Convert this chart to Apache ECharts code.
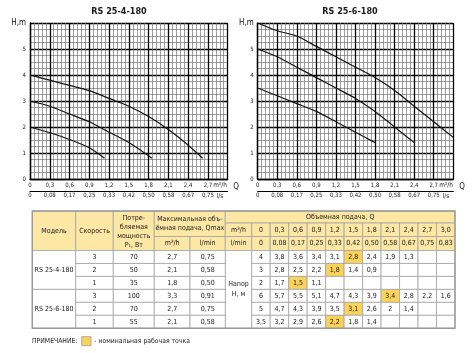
<!DOCTYPE html>
<html><head><meta charset="utf-8">
<script src="https://cdn.jsdelivr.net/npm/echarts@6/dist/echarts.min.js"></script>
<style>html,body{margin:0;padding:0;background:#fff}#c{width:476px;height:353px}</style>
</head><body><div id="c"></div>
<script>
// ---- axis tick labels ----
const qTickLabels = ['0','0,3','0,6','0,9','1,2','1,5','1,8','2,1','2,4','2,7',''];
const lsTickLabels = ['0','0,08','0,17','0,25','0,33','0,42','0,50','0,58','0,67','0,75',''];
const titles = ['RS 25-4-180','RS 25-6-180'];

// ---- curves [Q m3/h, H m] ----
const rs4Speed3 = [[0,4],[0.3,3.8],[0.6,3.6],[0.9,3.4],[1.2,3.1],[1.5,2.8],[1.8,2.4],[2.1,1.9],[2.4,1.3],[2.62,0.8]];
const rs4Speed2 = [[0,3],[0.3,2.8],[0.6,2.5],[0.9,2.2],[1.2,1.8],[1.5,1.4],[1.85,0.8]];
const rs4Speed1 = [[0,2],[0.3,1.78],[0.6,1.52],[0.9,1.2],[1.13,0.8]];
const rs6Speed3 = [[0,6],[0.3,5.7],[0.6,5.5],[0.9,5.1],[1.2,4.7],[1.5,4.3],[1.8,3.9],[2.1,3.4],[2.4,2.8],[2.7,2.2],[3.0,1.6]];
const rs6Speed2 = [[0,5],[0.3,4.7],[0.6,4.3],[0.9,3.9],[1.2,3.5],[1.5,3.1],[1.8,2.6],[2.1,2.0],[2.4,1.4]];
const rs6Speed1 = [[0,3.5],[0.3,3.2],[0.6,2.9],[0.9,2.6],[1.2,2.2],[1.5,1.8],[1.8,1.4]];

// ---- table ----
const tblModels = ['RS 25-4-180','RS 25-6-180'];
const tblSpeed = ['3','2','1','3','2','1'];
const tblPower = ['70','50','35','100','70','55'];
const tblQmaxM3h = ['2,7','2,1','1,8','3,3','2,7','2,1'];
const tblQmaxLmin = ['0,75','0,58','0,50','0,91','0,75','0,58'];
const tblQm3h = ['0','0,3','0,6','0,9','1,2','1,5','1,8','2,1','2,4','2,7','3,0'];
const tblQls = ['0','0,08','0,17','0,25','0,33','0,42','0,50','0,58','0,67','0,75','0,83'];
const tblHead = [
 ['4','3,8','3,6','3,4','3,1','2,8','2,4','1,9','1,3'],
 ['3','2,8','2,5','2,2','1,8','1,4','0,9'],
 ['2','1,7','1,5','1,1'],
 ['6','5,7','5,5','5,1','4,7','4,3','3,9','3,4','2,8','2,2','1,6'],
 ['5','4,7','4,3','3,9','3,5','3,1','2,6','2','1,4'],
 ['3,5','3,2','2,9','2,6','2,2','1,8','1,4']
];
const tblNominal = [5,4,2,7,5,4];

const FONT = "'Liberation Sans Narrow','DejaVu Sans Condensed','Open Sans',sans-serif";
const HDR = '#fde7a4', HIL = '#fbd25a', BRD = '#a3a3a3', TXT = '#1a1a1a';

function xAxes(gi){
  return [{
    type:'value', gridIndex:gi, min:0, max:3, interval:0.3, position:'bottom',
    axisLine:{show:true, onZero:false, lineStyle:{color:'#000', width:1.3}},
    axisTick:{show:false},
    axisLabel:{margin:3.5, fontSize:6, fontFamily:FONT, color:'#222',
      formatter:v=>qTickLabels[Math.round(v/0.3)]||''},
    splitLine:{show:true, lineStyle:{color:'#000', width:1.3}},
    minorTick:{show:false, splitNumber:5},
    minorSplitLine:{show:true, lineStyle:{color:'#6a6a6a', width:0.65}}
  },{
    type:'value', gridIndex:gi, min:0, max:3, interval:0.3, position:'bottom', offset:12,
    axisLine:{show:true, onZero:false, lineStyle:{color:'#000', width:1}},
    axisTick:{show:false},
    axisLabel:{margin:1.5, fontSize:6, fontFamily:FONT, color:'#222',
      formatter:v=>lsTickLabels[Math.round(v/0.3)]||''},
    splitLine:{show:false}
  }];
}
function yAxis(gi){
  return {
    type:'value', gridIndex:gi, min:0, max:6, interval:1,
    axisLine:{show:true, lineStyle:{color:'#000', width:1.3}},
    axisTick:{show:false},
    axisLabel:{margin:4, fontSize:6, fontFamily:FONT, color:'#222',
      formatter:v=> v===6 ? '{h|H,m}' : String(v),
      rich:{h:{fontSize:8, fontFamily:FONT, color:'#111'}}},
    splitLine:{show:true, lineStyle:{color:'#000', width:1.3}},
    minorTick:{show:false, splitNumber:4},
    minorSplitLine:{show:true, lineStyle:{color:'#6a6a6a', width:0.65}}
  };
}
function curve(data, xi, yi){
  return {type:'line', data:data, xAxisIndex:xi, yAxisIndex:yi, showSymbol:false, symbol:'none',
    smooth:0.25, lineStyle:{color:'#111', width:1.2}, silent:true, z:5};
}

// ---- graphic (titles, units, table) ----
const g = [];
function txt(x,y,t,opt){
  opt = opt||{};
  g.push({type:'text', x:x, y:y, silent:true, z:10, style:{text:t, fill:opt.fill||TXT,
    fontSize:opt.size||7, fontFamily:FONT, fontWeight:opt.weight||'normal',
    align:opt.align||'center', verticalAlign:'middle', textAlign:opt.align||'center', textVerticalAlign:'middle',
    lineHeight:opt.lh||9}});
}
function cell(x0,y0,x1,y1,fill){
  g.push({type:'rect', silent:true, z:8, shape:{x:x0,y:y0,width:x1-x0,height:y1-y0},
    style:{fill:fill, stroke:BRD, lineWidth:0.8}});
}
txt(119,12,titles[0],{size:9,weight:'bold'});
txt(350,12,titles[1],{size:9,weight:'bold'});
[[220,236],[446,462]].forEach(p=>{
  txt(p[0],185.5,'m³/h',{size:6.5});
  txt(p[0],196,'l/s',{size:6.5});
  txt(p[1],186.5,'Q',{size:8});
});

const X = [32.3, 75.7, 113.3, 154.3, 190, 225.3, 251.7];
const QR = 455, QW = (QR - X[6]) / tblQm3h.length;
const T0 = 211, T1 = 223, T2 = 236.5, T3 = 250.5, TB = 328.3, RH = (TB - T3) / 6;
// header
cell(X[0],T0,X[1],T3,HDR); txt((X[0]+X[1])/2,(T0+T3)/2,'Модель');
cell(X[1],T0,X[2],T3,HDR); txt((X[1]+X[2])/2,(T0+T3)/2,'Скорость');
cell(X[2],T0,X[3],T3,HDR); txt((X[2]+X[3])/2,(T0+T3)/2+0.5,'Потре-\nбляемая\nмощность\nP₁, Вт');
cell(X[3],T0,X[5],T2,HDR); txt((X[3]+X[5])/2,(T0+T2)/2,'Максимальная объ-\nёмная подача, Qmax');
cell(X[3],T2,X[4],T3,HDR); txt((X[3]+X[4])/2,(T2+T3)/2,'m³/h');
cell(X[4],T2,X[5],T3,HDR); txt((X[4]+X[5])/2,(T2+T3)/2,'l/min');
cell(X[5],T0,QR,T1,HDR); txt((X[5]+QR)/2,(T0+T1)/2,'Объемная подача, Q');
cell(X[5],T1,X[6],T2,HDR); txt((X[5]+X[6])/2,(T1+T2)/2,'m³/h');
cell(X[5],T2,X[6],T3,HDR); txt((X[5]+X[6])/2,(T2+T3)/2,'l/min');
tblQm3h.forEach((t,i)=>{
  const x0 = X[6]+i*QW;
  cell(x0,T1,x0+QW,T2,HDR); txt(x0+QW/2,(T1+T2)/2,t);
  cell(x0,T2,x0+QW,T3,HDR); txt(x0+QW/2,(T2+T3)/2,tblQls[i]);
});
// body
tblModels.forEach((m,k)=>{
  const y0 = T3+k*3*RH, y1 = y0+3*RH;
  cell(X[0],y0,X[1],y1,'#fff'); txt((X[0]+X[1])/2,(y0+y1)/2,m);
});
cell(X[5],T3,X[6],TB,'#fff'); txt((X[5]+X[6])/2,(T3+TB)/2,'Напор\nН, м',{lh:10});
for(let r=0;r<6;r++){
  const y0 = T3+r*RH, y1 = y0+RH, ym=(y0+y1)/2;
  [[tblSpeed,1],[tblPower,2],[tblQmaxM3h,3],[tblQmaxLmin,4]].forEach(([arr,c])=>{
    cell(X[c],y0,X[c+1],y1,'#fff'); txt((X[c]+X[c+1])/2,ym,arr[r]);
  });
  for(let i=0;i<tblQm3h.length;i++){
    const x0 = X[6]+i*QW;
    cell(x0,y0,x0+QW,y1, i===tblNominal[r]?HIL:'#fff');
    if(tblHead[r][i]!==undefined) txt(x0+QW/2,ym,tblHead[r][i]);
  }
}
g.push({type:'rect', silent:true, z:9, shape:{x:X[0],y:T0,width:QR-X[0],height:TB-T0},
  style:{fill:'none', stroke:'#9a9a9a', lineWidth:1.4}});
// note
txt(32,341.5,'ПРИМЕЧАНИЕ:',{align:'left',size:6.8});
g.push({type:'rect', silent:true, z:8, shape:{x:81.7,y:336.7,width:9.3,height:9},
  style:{fill:HIL, stroke:'#999', lineWidth:0.8}});
txt(94.3,341.5,'- номинальная рабочая точка',{align:'left',size:6.8});

const chart = echarts.init(document.getElementById('c'));
chart.setOption({
  animation:false,
  backgroundColor:'#fff',
  grid:[{left:30, top:23, width:197.7, height:156},{left:257.7, top:23, width:195.6, height:156}],
  xAxis:[...xAxes(0), ...xAxes(1)],
  yAxis:[yAxis(0), yAxis(1)],
  series:[
    curve(rs4Speed3,0,0), curve(rs4Speed2,0,0), curve(rs4Speed1,0,0),
    curve(rs6Speed3,2,1), curve(rs6Speed2,2,1), curve(rs6Speed1,2,1)
  ],
  graphic:{elements:g}
});
</script></body></html>
